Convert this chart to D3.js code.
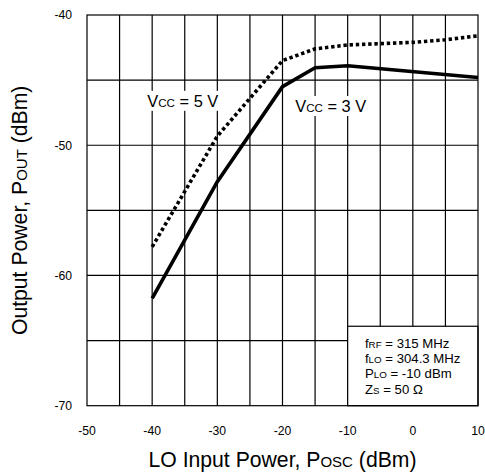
<!DOCTYPE html>
<html>
<head>
<meta charset="utf-8">
<script src="https://cdn.jsdelivr.net/npm/d3@7"></script>
<style>
  body { margin: 0; background: #fff; }
  svg { display: block; font-family: "Liberation Sans", Arial, sans-serif; }
</style>
</head>
<body>
<svg id="chart" width="485" height="473"></svg>
<script>
// values
const xTicks = [-50, -40, -30, -20, -10, 0, 10];
const yTicks = [-70, -60, -50, -40];
const xGrid = [-45, -40, -35, -30, -25, -20, -15, -10, -5, 0, 5];
const yGrid = [-65, -60, -55, -50, -45];

const vcc3 = [
  [-40, -61.75], [-30, -52.8], [-20, -45.5], [-15, -44.05], [-10, -43.9], [10, -44.8]
];
const vcc5 = [
  [-40, -57.8], [-30, -49.3], [-20, -43.5], [-15, -42.6], [-10, -42.3],
  [0, -42.1], [5, -41.9], [10, -41.6]
];

const conditions = [
  ["f", "RF", " = 315 MHz"],
  ["f", "LO", " = 304.3 MHz"],
  ["P", "LO", " = -10 dBm"],
  ["Z", "S", " = 50 \u03A9"]
];

const margin = { left: 87, top: 15, right: 7, bottom: 67.3 };
const width = 485 - margin.left - margin.right;
const height = 473 - margin.top - margin.bottom;

const svg = d3.select("#chart");
const plot = svg.append("g").attr("transform", `translate(${margin.left},${margin.top})`);

const x = d3.scaleLinear().domain([-50, 10]).range([0, width]);
const y = d3.scaleLinear().domain([-70, -40]).range([height, 0]);

// grid
plot.selectAll(".gx").data(xGrid).enter().append("line")
  .attr("x1", d => x(d)).attr("x2", d => x(d))
  .attr("y1", 0).attr("y2", height)
  .attr("stroke", "#000").attr("stroke-width", 1.2);
plot.selectAll(".gy").data(yGrid).enter().append("line")
  .attr("y1", d => y(d)).attr("y2", d => y(d))
  .attr("x1", 0).attr("x2", width)
  .attr("stroke", "#000").attr("stroke-width", 1.2);

// conditions box covers the grid in the lower right corner
const boxTop = -63.9;
plot.append("rect")
  .attr("x", x(-10)).attr("y", y(boxTop))
  .attr("width", x(10) - x(-10)).attr("height", y(-70) - y(boxTop))
  .attr("fill", "#fff").attr("stroke", "#000").attr("stroke-width", 1.2);

plot.append("rect")
  .attr("x", 0).attr("y", 0).attr("width", width).attr("height", height)
  .attr("fill", "none").attr("stroke", "#000").attr("stroke-width", 1.2);

// tick labels
plot.selectAll(".tx").data(xTicks).enter().append("text")
  .attr("x", d => x(d)).attr("y", height + 29.5)
  .attr("text-anchor", "middle").attr("font-size", 12.2)
  .text(d => d);
plot.selectAll(".ty").data(yTicks).enter().append("text")
  .attr("x", -15).attr("y", d => y(d)).attr("dy", "0.36em")
  .attr("text-anchor", "end").attr("font-size", 12.2)
  .text(d => d);

// curves
const line = d3.line().x(d => x(d[0])).y(d => y(d[1]));
plot.append("path").datum(vcc3).attr("d", line)
  .attr("fill", "none").attr("stroke", "#000").attr("stroke-width", 3.6)
  .attr("stroke-linejoin", "round");
plot.append("path").datum(vcc5).attr("d", line)
  .attr("fill", "none").attr("stroke", "#000").attr("stroke-width", 3.6)
  .attr("stroke-dasharray", "3.4,2.8");

// text with small-caps subscripts
function smallCapsText(g, parts, big, small) {
  const t = g.append("text").attr("font-size", big);
  parts.forEach((p, i) => {
    t.append("tspan").attr("font-size", i % 2 ? small : big).text(p);
  });
  return t;
}

function curveLabel(vx, vy, parts) {
  const g = plot.append("g");
  const bg = g.append("rect").attr("fill", "#fff");
  const t = smallCapsText(g, parts, 16.4, 11.6)
    .attr("x", x(vx)).attr("y", y(vy)).attr("text-anchor", "middle");
  const b = t.node().getBBox();
  bg.attr("x", b.x - 2).attr("y", b.y - 1).attr("width", b.width + 4).attr("height", b.height + 2);
}
curveLabel(-35.3, -47.05, ["V", "CC", " = 5 V"]);
curveLabel(-12.6, -47.45, ["V", "CC", " = 3 V"]);

conditions.forEach((c, i) => {
  smallCapsText(plot, c, 13.2, 9.8)
    .attr("x", x(-7.35)).attr("y", y(boxTop) + 21.8 + i * 15.2);
});

// axis titles
smallCapsText(svg, ["LO Input Power, P", "OSC", " (dBm)"], 21.2, 15)
  .attr("x", margin.left + width / 2).attr("y", 466.5).attr("text-anchor", "middle");
smallCapsText(svg, ["Output Power, P", "OUT", " (dBm)"], 21.2, 15)
  .attr("transform", `translate(26.5,${margin.top + height / 2}) rotate(-90)`)
  .attr("text-anchor", "middle");
</script>
</body>
</html>
